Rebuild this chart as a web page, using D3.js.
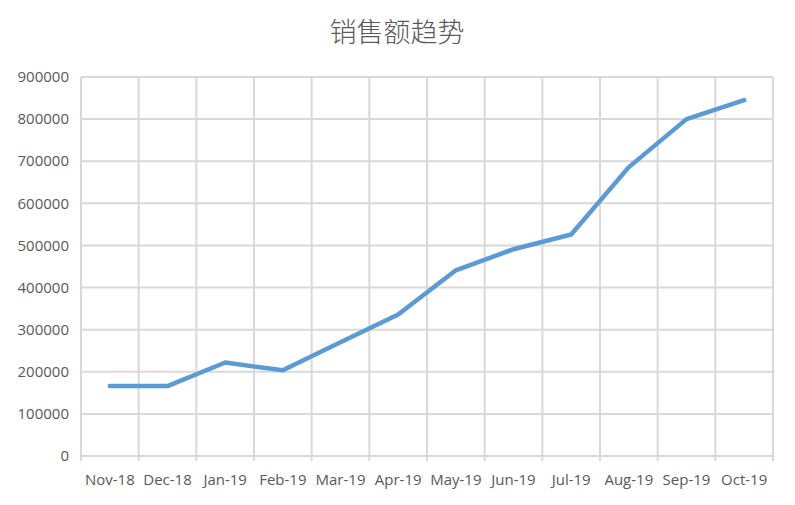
<!DOCTYPE html>
<html><head><meta charset="utf-8">
<script src="https://cdn.jsdelivr.net/npm/d3@7"></script>
<style>body{margin:0;background:#fff;} svg{display:block;}</style>
</head><body>
<svg id="c" width="795" height="505"></svg>
<script>
const categories = ["Nov-18","Dec-18","Jan-19","Feb-19","Mar-19","Apr-19","May-19","Jun-19","Jul-19","Aug-19","Sep-19","Oct-19"];
const sales = [166000,166000,222000,203500,270000,336000,441000,491000,526000,686000,800000,845000];
const yTicks = [0,100000,200000,300000,400000,500000,600000,700000,800000,900000];
const title = "销售额趋势";

const svg = d3.select("#c");
const L = 81, R = 773, T = 77, B = 456;
const x = d3.scaleBand().domain(categories).range([L, R]);
const y = d3.scaleLinear().domain([0, 900000]).range([B, T]);
const grid = "#D9D9D9", txt = "#595959";
const font = "'Open Sans', 'Liberation Sans', sans-serif";

svg.append("g").selectAll("line").data(yTicks).join("line")
  .attr("x1", L).attr("x2", R).attr("y1", d => y(d)).attr("y2", d => y(d))
  .attr("stroke", grid).attr("stroke-width", 2);
const bounds = categories.map(c => x(c)).concat([R]);
svg.append("g").selectAll("line").data(bounds).join("line")
  .attr("x1", d => d).attr("x2", d => d).attr("y1", T).attr("y2", B + 5)
  .attr("stroke", grid).attr("stroke-width", 2);

svg.append("g").selectAll("text").data(yTicks).join("text")
  .attr("x", 69).attr("y", d => y(d)).attr("dy", "0.35em")
  .attr("text-anchor", "end").attr("fill", txt)
  .style("font-family", font).style("font-size", "15px")
  .text(d => d);

svg.append("g").selectAll("text").data(categories).join("text")
  .attr("x", d => x(d) + x.bandwidth()/2).attr("y", 485)
  .attr("text-anchor", "middle").attr("fill", txt)
  .style("font-family", font).style("font-size", "15px")
  .text(d => d);

const line = d3.line().x((d,i) => x(categories[i]) + x.bandwidth()/2).y(d => y(d));
svg.append("path").datum(sales).attr("d", line)
  .attr("fill", "none").attr("stroke", "#5B9BD5").attr("stroke-width", 4.5)
  .attr("stroke-linejoin", "round").attr("stroke-linecap", "round");

svg.append("text").attr("x", 397).attr("y", 42).attr("text-anchor", "middle")
  .attr("fill", txt).style("font-family", "'Noto Sans CJK SC', sans-serif")
  .style("font-size", "27px").style("font-weight", 300).text(title);
</script>
</body></html>
